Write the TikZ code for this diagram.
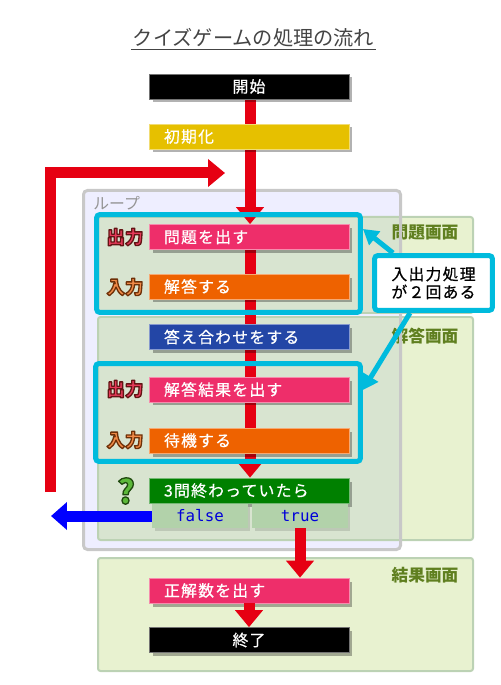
\documentclass[tikz,border=0pt]{standalone}
\usepackage{fontspec}
\usepackage{tikz}
\usetikzlibrary{arrows.meta,shadows}
\newfontfamily\jpfont{Noto Sans CJK JP}
\newfontfamily\jpwide[LetterSpace=8,FakeBold=0.6]{Noto Sans CJK JP}
\setmonofont{DejaVu Sans Mono}
\definecolor{flowred}{HTML}{E60012}
\definecolor{flowpink}{HTML}{EE2E6A}
\definecolor{floworange}{HTML}{EE6200}
\definecolor{flowblue}{HTML}{2346A6}
\definecolor{flowgreen}{HTML}{008000}
\definecolor{flowgold}{HTML}{E6C000}
\definecolor{branchgreen}{HTML}{B2D2AA}
\definecolor{panelgreen}{HTML}{E8F2D0}
\definecolor{paneldark}{HTML}{D8E4D0}
\definecolor{panelline}{HTML}{BCD2B4}
\definecolor{loopfill}{HTML}{EEEEFF}
\definecolor{loopline}{HTML}{C8C8C8}
\definecolor{hlcyan}{HTML}{00BBDD}
\definecolor{paneltext}{HTML}{5F7F1F}
\definecolor{titlegray}{HTML}{444444}
\definecolor{outred}{HTML}{E63A5A}
\definecolor{inorange}{HTML}{F08A48}
\definecolor{qgreen}{HTML}{5CB83A}
\pgfdeclarelayer{panels}
\pgfdeclarelayer{flow}
\pgfsetlayers{panels,flow,main}
\newcommand{\Rimmed}[3]{{\color{#1}%
  \special{pdf:literal direct q 2 Tr 0.75 w 1 j #2 RG}#3\special{pdf:literal direct Q}}}
\begin{document}
\begin{tikzpicture}[x=0.02cm,y=-0.02cm,
  procbox/.style={fill=#1, draw=#1!55!white, line width=0.4pt,
    minimum height=0.5cm, text width=3.4cm, inner xsep=0.3cm, inner ysep=0pt,
    align=left, text=white, font=\jpwide\fontsize{9}{10}\selectfont,
    drop shadow={shadow xshift=0.07cm, shadow yshift=-0.07cm, opacity=0.3, fill=black}},
  endbox/.style={procbox=black, align=center},
  branchbox/.style={fill=branchgreen, minimum width=1.92cm, minimum height=0.48cm,
    inner sep=0pt, text=blue!85!black, font=\ttfamily\fontsize{9}{10}\selectfont,
    drop shadow={shadow xshift=0.05cm, shadow yshift=-0.05cm, opacity=0.12, fill=black}},
  panel/.style={draw=panelline, line width=0.04cm, rounded corners=0.05cm},
  panellabel/.style={inner sep=0pt, text=paneltext, font=\jpfont\bfseries\fontsize{9.5}{11}\selectfont},
  iolabel/.style={inner sep=0pt, font=\jpfont\bfseries\fontsize{10.5}{12}\selectfont},
  hlbox/.style={draw=hlcyan, line width=0.1cm, rounded corners=0.07cm},
  notebox/.style={hlbox, fill=white, minimum width=2.36cm, minimum height=1.1cm,
    align=center, font=\jpwide\fontsize{9}{10.2}\selectfont, text=black},
  flowarrow/.style={draw=flowred, line width=0.22cm, -{Triangle[width=0.54cm,length=0.34cm]}},
  exitarrow/.style={draw=blue, line width=0.22cm, -{Triangle[width=0.54cm,length=0.32cm]}},
  notearrow/.style={draw=hlcyan, line width=0.1cm, -{Triangle[width=0.34cm,length=0.3cm]}}]
  \useasboundingbox (0,0) rectangle (500,685);

  \node[inner sep=1pt, text=titlegray, font=\jpfont\fontsize{11.5}{13}\selectfont]
    (title) at (253.5,38) {クイズゲームの処理の流れ};
  \draw[titlegray, line width=0.03cm] (title.south west) -- (title.south east);

  \begin{pgfonlayer}{panels}
    \fill[panelgreen, panel] (98,217) rectangle (473,313);
    \fill[panelgreen, panel] (98,317) rectangle (473,540);
    \fill[panelgreen, panel] (98,558) rectangle (473,671);
    \begin{scope}
      \clip (83.5,190.5) rectangle (400.5,549.5);
      \fill[loopfill] (0,0) rectangle (500,685);
      \fill[paneldark, panel] (98,217) rectangle (473,313);
      \fill[paneldark, panel] (98,317) rectangle (473,540);
    \end{scope}
    \node[panellabel] (quizlbl) at (425,233) {問題画面};
    \node[panellabel] (judgelbl) at (425,336) {解答画面};
    \node[panellabel] (scorelbl) at (425,575) {結果画面};
    \draw[loopline, line width=0.06cm, rounded corners=0.08cm] (83.5,190.5) rectangle (400.5,549.5);
    \node[anchor=west, inner sep=0pt, text=black!42, font=\jpfont\fontsize{9}{10}\selectfont]
      (looplbl) at (93,203) {ループ};
  \end{pgfonlayer}

  \node[endbox] (start) at (249,86.5) {開始};
  \node[procbox=flowgold] (init) at (249,136.5) {初期化};
  \node[procbox=flowpink] (prob) at (249,237) {問題を出す};
  \node[procbox=floworange] (ans) at (249,286.5) {解答する};
  \node[procbox=flowblue] (check) at (249,337) {答え合わせをする};
  \node[procbox=flowpink] (result) at (249,389.5) {解答結果を出す};
  \node[procbox=floworange] (wait) at (249,440.5) {待機する};
  \node[procbox=flowgreen] (cond) at (249,490.5) {3問終わっていたら};
  \node[branchbox] (falsebr) at (200,516) {false};
  \node[branchbox] (truebr) at (300,516) {true};
  \node[procbox=flowpink] (score) at (249,590.5) {正解数を出す};
  \node[endbox] (finish) at (249,640) {終了};

  \begin{pgfonlayer}{flow}
    \draw[flowarrow] ([xshift=0.02cm]start.south) -- ([xshift=0.02cm]prob.north);
    \draw[flowarrow] ([xshift=0.02cm]prob.south) -- ([xshift=0.02cm]cond.north);
  \end{pgfonlayer}

  \node[iolabel] (out1) at (125,237) {\Rimmed{outred}{0.39 0.08 0.08}{出力}};
  \node[iolabel] (in1) at (125,287) {\Rimmed{inorange}{0.43 0.19 0.03}{入力}};
  \node[iolabel] (out2) at (125,389) {\Rimmed{outred}{0.39 0.08 0.08}{出力}};
  \node[iolabel] (in2) at (125,440) {\Rimmed{inorange}{0.43 0.19 0.03}{入力}};
  \node[iolabel, font=\jpfont\bfseries\fontsize{19}{21}\selectfont] (ask) at (126,491) {\Rimmed{qgreen}{0.12 0.29 0.06}{?}};

  \node[hlbox, minimum width=5.28cm, minimum height=1.96cm] (hl1) at (228.5,263.5) {};
  \node[hlbox, minimum width=5.3cm, minimum height=1.96cm] (hl2) at (228,412.5) {};
  \node[notebox] (note) at (433.5,283) {入出力処理\\が２回ある};
  \draw[notearrow] ([xshift=0.42cm]note.north west) -- ([yshift=-0.34cm]hl1.north east);
  \draw[notearrow] ([xshift=0.76cm]note.south west) -- ([yshift=0.45cm]hl2.east);

  \coordinate (backfoot) at (50,492);
  \coordinate (backtip) at (225,173);
  \coordinate (exitpt) at (51,516);
  \draw[flowarrow] (backfoot) |- (backtip);
  \draw[exitarrow] (falsebr.west) -- (exitpt);
  \draw[flowarrow] (truebr.south) -- (truebr.south |- score.north);
  \draw[flowarrow] (score.south) -- (finish.north);
\end{tikzpicture}
\end{document}
